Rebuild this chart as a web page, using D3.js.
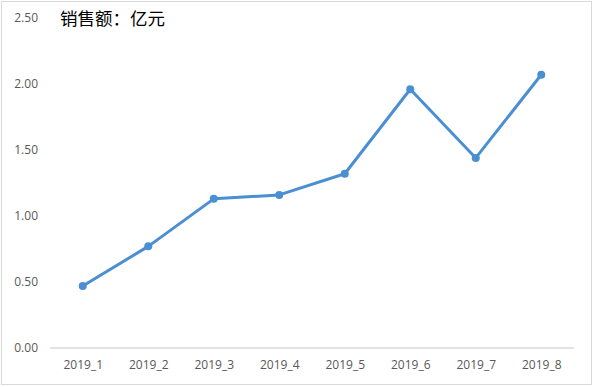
<!DOCTYPE html>
<html>
<head>
<meta charset="utf-8">
<script src="https://cdn.jsdelivr.net/npm/d3@7"></script>
<style>
  body { margin: 0; background: #fff; }
  text { font-family: "Open Sans", "Noto Sans CJK SC", sans-serif; }
</style>
</head>
<body>
<svg id="chart" width="594" height="387"></svg>
<script>
// 销售额（亿元）按月
var months = ["2019_1", "2019_2", "2019_3", "2019_4", "2019_5", "2019_6", "2019_7", "2019_8"];
var sales = [0.47, 0.77, 1.13, 1.16, 1.32, 1.96, 1.44, 2.07];
var yTicks = [0, 0.5, 1, 1.5, 2, 2.5];

var svg = d3.select("#chart");
var W = 594, H = 387;
var plotLeft = 50, plotRight = 574, plotTop = 18, plotBottom = 348;

// marco exterior
svg.append("rect").attr("x", 1.5).attr("y", 1.5).attr("width", W - 4).attr("height", H - 4)
  .attr("fill", "#fff").attr("stroke", "#d9d9d9").attr("stroke-width", 1);

var x = d3.scalePoint().domain(months).range([plotLeft, plotRight]).padding(0.5);
var y = d3.scaleLinear().domain([0, 2.5]).range([plotBottom, plotTop]);

// eje Y (solo etiquetas)
svg.append("g").selectAll("text").data(yTicks).enter().append("text")
  .attr("x", 38).attr("y", function(d) { return y(d); })
  .attr("dy", "0.35em").attr("text-anchor", "end")
  .attr("font-size", 12).attr("fill", "#595959")
  .text(function(d) { return d3.format(".2f")(d); });

// eje X
var xAxis = svg.append("g").attr("transform", "translate(0," + plotBottom + ")")
  .call(d3.axisBottom(x).tickSize(0).tickPadding(12));
xAxis.select(".domain").attr("d", "M" + plotLeft + ",0H" + plotRight).attr("stroke", "#d9d9d9").attr("stroke-width", 1.3);
xAxis.selectAll("text").attr("font-size", 12).attr("fill", "#595959")
  .attr("font-family", "\"Open Sans\", sans-serif");

// línea
var line = d3.line().x(function(d, i) { return x(months[i]); }).y(function(d) { return y(d); });
svg.append("path").datum(sales).attr("d", line)
  .attr("fill", "none").attr("stroke", "#4a8fd2").attr("stroke-width", 3)
  .attr("stroke-linejoin", "round");

svg.append("g").selectAll("circle").data(sales).enter().append("circle")
  .attr("cx", function(d, i) { return x(months[i]); })
  .attr("cy", function(d) { return y(d); })
  .attr("r", 4).attr("fill", "#4a8fd2");

// título
svg.append("text").attr("x", 60).attr("y", 25)
  .attr("font-size", 17.5).attr("fill", "#000")
  .attr("font-family", "\"Noto Sans CJK SC\", sans-serif")
  .text("销售额：亿元");
</script>
</body>
</html>
